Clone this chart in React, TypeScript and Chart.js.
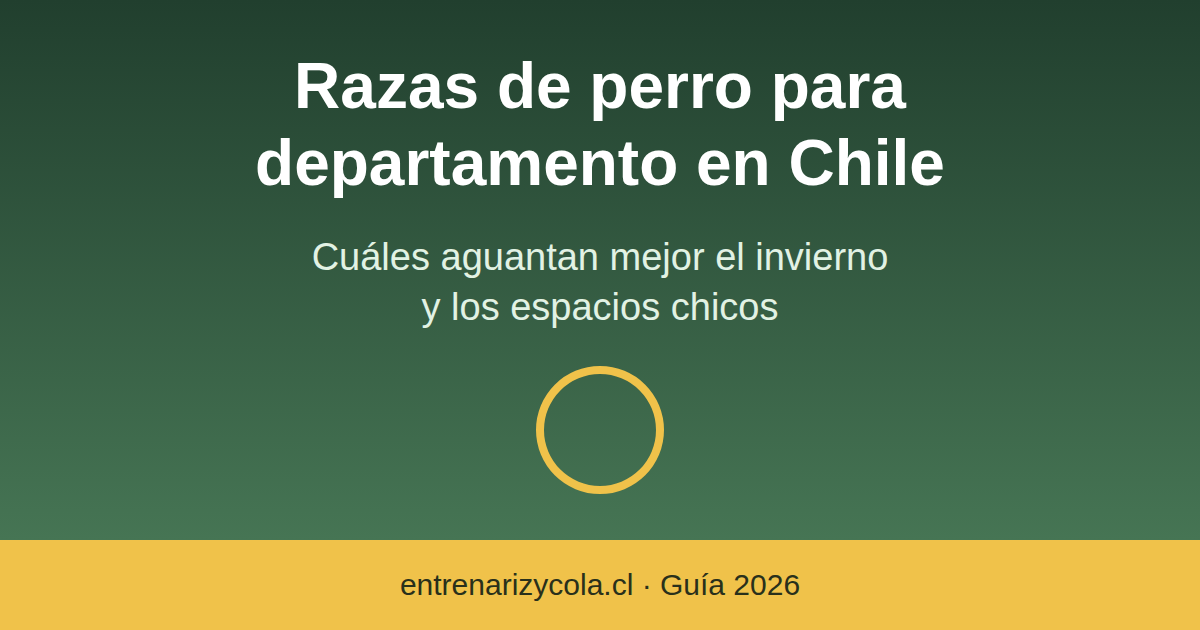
import React, { useEffect, useRef } from "react";
import { Chart, registerables } from "chart.js";

Chart.register(...registerables);

const titleLines = ["Razas de perro para", "departamento en Chile"];
const subtitleLines = ["Cuáles aguantan mejor el invierno", "y los espacios chicos"];
const footerText = "entrenarizycola.cl · Guía 2026";
const ringLabels = ["Guía"];
const ringValues = [100];

const FONT = '"Liberation Sans", Arial, Helvetica, sans-serif';

export default function App() {
  const canvasRef = useRef<HTMLCanvasElement | null>(null);

  useEffect(() => {
    const canvas = canvasRef.current;
    if (!canvas) return;
    const chart = new Chart(canvas, {
      type: "doughnut",
      data: {
        labels: ringLabels,
        datasets: [
          {
            data: ringValues,
            backgroundColor: ["#f0c24a"],
            borderWidth: 0,
            hoverOffset: 0,
            offset: 0,
          },
        ],
      },
      options: {
        animation: false,
        responsive: true,
        maintainAspectRatio: false,
        cutout: 56,
        layout: { padding: 0 },
        plugins: {
          legend: { display: false },
          tooltip: { enabled: false },
          title: { display: false },
        },
        events: [],
      },
    });
    return () => chart.destroy();
  }, []);

  return (
    <div
      style={{
        position: "fixed",
        left: 0,
        top: 0,
        width: 1200,
        height: 630,
        overflow: "hidden",
        fontFamily: FONT,
      }}
    >
      <div
        style={{
          position: "absolute",
          left: 0,
          top: 0,
          width: 1200,
          height: 540,
          background: "linear-gradient(180deg, #213f2e 0%, #467554 100%)",
        }}
      />
      <div
        style={{
          position: "absolute",
          left: 0,
          top: 48,
          width: 1200,
          textAlign: "center",
          color: "#ffffff",
          fontWeight: 700,
          fontSize: 64,
          lineHeight: "76.8px",
        }}
      >
        {titleLines.map((t, i) => (
          <div key={i}>{t}</div>
        ))}
      </div>
      <div
        style={{
          position: "absolute",
          left: 0,
          top: 232,
          width: 1200,
          textAlign: "center",
          color: "#e2f2e4",
          fontWeight: 400,
          fontSize: 38,
          lineHeight: "50px",
        }}
      >
        {subtitleLines.map((t, i) => (
          <div key={i}>{t}</div>
        ))}
      </div>
      <div
        style={{
          position: "absolute",
          left: 536,
          top: 366,
          width: 128,
          height: 128,
        }}
      >
        <canvas ref={canvasRef} />
      </div>
      <div
        style={{
          position: "absolute",
          left: 0,
          top: 540,
          width: 1200,
          height: 90,
          background: "#f0c24a",
          display: "flex",
          alignItems: "center",
          justifyContent: "center",
          color: "#29301b",
          fontSize: 30,
        }}
      >
        {footerText}
      </div>
    </div>
  );
}
